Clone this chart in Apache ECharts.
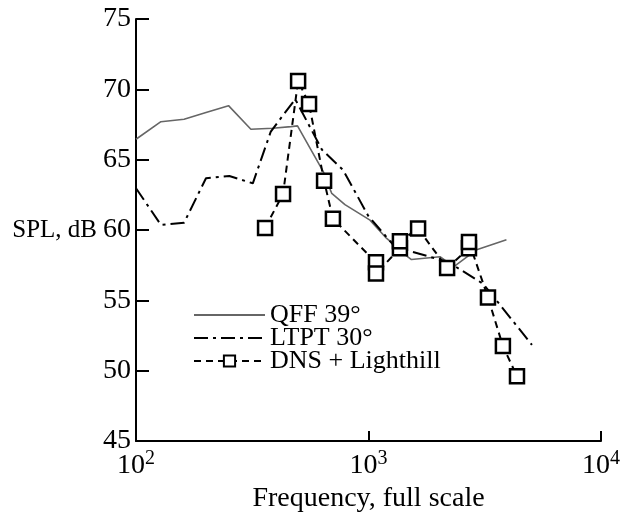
<!DOCTYPE html>
<html>
<head>
<meta charset="utf-8">
<script src="https://cdn.jsdelivr.net/npm/echarts@6/dist/echarts.min.js"></script>
<style>
html,body{margin:0;padding:0;background:#fff;}
#chart{width:629px;height:514px;}
</style>
</head>
<body>
<div id="chart"></div>
<script>
// ---- data ----
const seriesNames = ['QFF 39°', 'LTPT 30°', 'DNS + Lighthill'];

const qffFreq = [100, 128, 161, 200, 250, 312, 387, 464, 495, 639, 695, 792, 1015, 1197, 1300, 1420, 1530, 2030, 2330, 2920, 3920];
const qffSpl  = [66.45, 67.7, 67.87, 68.35, 68.84, 67.16, 67.23, 67.35, 67.4, 64.15, 62.6, 61.8, 60.7, 59.4, 58.9, 58.3, 57.9, 58.1, 57.4, 58.6, 59.3];

const ltptFreq = [100, 128, 161, 200, 252, 318, 380, 484, 631, 777, 998, 1300, 2198, 3116, 5047];
const ltptSpl  = [62.97, 60.36, 60.52, 63.68, 63.84, 63.32, 67.0, 69.3, 65.7, 64.27, 61.0, 58.8, 57.73, 56.17, 51.83];

const dnsFreq = [359, 429, 498, 555, 644, 703, 1077, 1077, 1365, 1365, 1634, 2178, 2705, 2705, 3265, 3785, 4352];
const dnsSpl  = [60.15, 62.56, 70.6, 68.96, 63.5, 60.8, 57.7, 56.9, 58.7, 59.2, 60.1, 57.3, 58.7, 59.15, 55.2, 51.75, 49.6];

const yMin = 45, yMax = 75, yStep = 5;

const pairs = (xs, ys) => xs.map((x, i) => [x, ys[i]]);
const FONT = 'Liberation Serif';

const chart = echarts.init(document.getElementById('chart'), null, {renderer: 'canvas'});
chart.setOption({
  backgroundColor: '#ffffff',
  animation: false,
  textStyle: {fontFamily: FONT, color: '#000'},
  grid: {left: 136, right: 28, top: 19, bottom: 73, containLabel: false, outerBoundsMode: 'none'},
  legend: {
    orient: 'vertical',
    left: 188,
    top: 297,
    itemWidth: 71,
    itemHeight: 14,
    itemGap: -3,
    data: [
      {name: seriesNames[0], itemStyle: {opacity: 0}},
      {name: seriesNames[1], itemStyle: {opacity: 0}},
      {name: seriesNames[2]}
    ],
    textStyle: {fontFamily: FONT, fontSize: 26, color: '#000', lineHeight: 24}
  },
  xAxis: {
    type: 'log',
    logBase: 10,
    min: 100,
    max: 10000,
    name: 'Frequency, full scale',
    nameLocation: 'middle',
    nameGap: 43,
    nameTextStyle: {fontFamily: FONT, fontSize: 28, color: '#000'},
    axisLine: {lineStyle: {color: '#000', width: 2}},
    axisTick: {inside: true, length: 10, lineStyle: {color: '#000', width: 2}},
    minorTick: {show: false},
    splitLine: {show: false},
    axisLabel: {
      margin: 8,
      formatter: function (v) {
        const e = Math.round(Math.log10(v));
        return '{b|10}{s|' + e + '}';
      },
      rich: {
        b: {fontFamily: FONT, fontSize: 28, lineHeight: 31, verticalAlign: 'bottom', color: '#000'},
        s: {fontFamily: FONT, fontSize: 20, lineHeight: 19, verticalAlign: 'top', color: '#000'}
      }
    }
  },
  yAxis: {
    type: 'value',
    min: yMin,
    max: yMax,
    interval: yStep,
    name: 'SPL, dB',
    nameLocation: 'middle',
    nameRotate: 0,
    nameGap: 39,
    nameTextStyle: {fontFamily: FONT, fontSize: 25, color: '#000', align: 'right'},
    axisLine: {show: true, lineStyle: {color: '#000', width: 2}},
    axisTick: {show: true, inside: true, length: 13, lineStyle: {color: '#000', width: 2}},
    splitLine: {show: false},
    axisLabel: {margin: 5, fontFamily: FONT, fontSize: 28, color: '#000'}
  },
  series: [
    {
      name: seriesNames[0],
      type: 'line',
      data: pairs(qffFreq, qffSpl),
      symbol: 'none',
      showSymbol: false,
      lineStyle: {color: '#666', width: 1.6, type: 'solid'},
      itemStyle: {color: '#666'},
      z: 2
    },
    {
      name: seriesNames[1],
      type: 'line',
      data: pairs(ltptFreq, ltptSpl),
      symbol: 'none',
      showSymbol: false,
      lineStyle: {color: '#000', width: 2, type: [14, 5, 3, 5]},
      itemStyle: {color: '#000'},
      z: 3
    },
    {
      name: seriesNames[2],
      type: 'line',
      data: pairs(dnsFreq, dnsSpl),
      symbol: 'rect',
      symbolSize: 14,
      showSymbol: true,
      lineStyle: {color: '#000', width: 2, type: [7, 5]},
      itemStyle: {color: '#fff', borderColor: '#000', borderWidth: 2.5},
      z: 4
    }
  ]
});
</script>
</body>
</html>
